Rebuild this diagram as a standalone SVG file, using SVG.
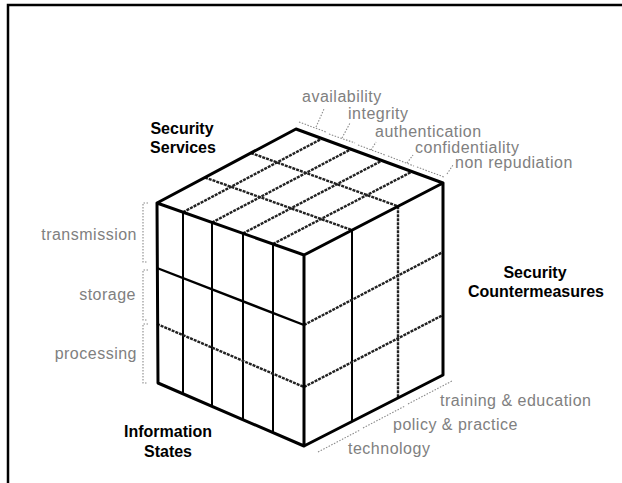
<svg xmlns="http://www.w3.org/2000/svg" width="622" height="483" viewBox="0 0 622 483">
<style>
.title{font-family:"Liberation Sans",Arial,sans-serif;font-size:16px;font-weight:bold;fill:#000;text-anchor:middle}
.lbl{font-family:"Liberation Sans",Arial,sans-serif;font-size:16px;fill:#808080;letter-spacing:0.5px}
.end{text-anchor:end}
.edge{fill:none;stroke:#000;stroke-width:3;stroke-linejoin:round;stroke-linecap:round}
.solid{fill:none;stroke:#000;stroke-width:2}
.hatch{fill:none;stroke:#222;stroke-width:2.4;stroke-dasharray:3 1}
.dot{fill:none;stroke:#8a8a8a;stroke-width:1.1;stroke-dasharray:1.5 1.5}
</style>
<rect width="622" height="483" fill="#fff"/>
<path id="frame" d="M8,483 V5 H622" fill="none" stroke="#000" stroke-width="2.5"/>

<g id="cube">
  <polygon points="157,203 296,129 443,183 443,375 304,446 158,383" fill="#fff"/>
  <!-- top face grid -->
  <g class="hatch">
    <line x1="205" y1="177.5" x2="352" y2="230.1"/>
    <line x1="251" y1="153" x2="398" y2="206.3"/>
    <line x1="183" y1="212.2" x2="322" y2="138.6"/>
    <line x1="212" y1="222.5" x2="351" y2="149.2"/>
    <line x1="243" y1="233.4" x2="382" y2="160.6"/>
    <line x1="273" y1="244" x2="412" y2="171.6"/>
  </g>
  <!-- left face grid -->
  <g class="solid">
    <line x1="183" y1="212.2" x2="183" y2="393.8"/>
    <line x1="212" y1="222.5" x2="212" y2="406.3"/>
    <line x1="243" y1="233.4" x2="243" y2="419.7"/>
    <line x1="273" y1="244" x2="273" y2="432.6"/>
    <line x1="157" y1="268" x2="304" y2="325" stroke-width="2.4"/>
  </g>
  <g class="hatch">
    <line x1="157" y1="324" x2="304" y2="387"/>
  </g>
  <!-- right face grid -->
  <line class="solid" x1="352" y1="230.1" x2="352" y2="421.5"/>
  <g class="hatch">
    <line x1="398" y1="206.3" x2="398" y2="398"/>
    <line x1="304" y1="325" x2="443" y2="252"/>
    <line x1="304" y1="387" x2="443" y2="315"/>
  </g>
  <!-- outline and front edges -->
  <path class="edge" d="M157,203 L296,129 L443,183 L443,375 L304,446 L158,383 Z M157,203 L304,255 L443,183 M304,255 V446"/>
</g>

<g id="connectors">
  <!-- security services leaders -->
  <path class="dot" d="M299,122 L326,132 M316,127 L324,109"/>
  <path class="dot" d="M329,134 L355,143 M342,138 L350,123"/>
  <path class="dot" d="M358,145 L385,155 M371,150 L376,142"/>
  <path class="dot" d="M388,156 L414,166 M407,163 L413,155"/>
  <path class="dot" d="M417,167 L444,177 M447,174 L453,165"/>
  <!-- information states brackets -->
  <path class="dot" d="M148,203 H143 V262 H148"/>
  <path class="dot" d="M148,270 H143 V320 H148"/>
  <path class="dot" d="M148,324 H143 V383 H148"/>
  <!-- countermeasures leaders -->
  <path class="dot" d="M318,452 L360,430"/>
  <path class="dot" d="M363,428 L405,406"/>
  <path class="dot" d="M408,404 L452,381"/>
</g>

<g id="title-services"><text class="title" x="182" y="134">Security</text><text class="title" x="183" y="153">Services</text></g>
<g id="title-countermeasures"><text class="title" x="535" y="278">Security</text><text class="title" x="536" y="297">Countermeasures</text></g>
<g id="title-states"><text class="title" x="168" y="437">Information</text><text class="title" x="168" y="457">States</text></g>

<g id="services-labels">
  <text class="lbl" x="302" y="102">availability</text>
  <text class="lbl" x="348" y="119">integrity</text>
  <text class="lbl" x="375" y="137">authentication</text>
  <text class="lbl" x="415" y="153">confidentiality</text>
  <text class="lbl" x="455" y="168">non repudiation</text>
</g>
<g id="states-labels">
  <text class="lbl end" x="137" y="240">transmission</text>
  <text class="lbl end" x="136" y="300">storage</text>
  <text class="lbl end" x="137" y="359">processing</text>
</g>
<g id="countermeasure-labels">
  <text class="lbl" x="440" y="406">training &amp; education</text>
  <text class="lbl" x="393" y="430">policy &amp; practice</text>
  <text class="lbl" x="348" y="454">technology</text>
</g>
</svg>
